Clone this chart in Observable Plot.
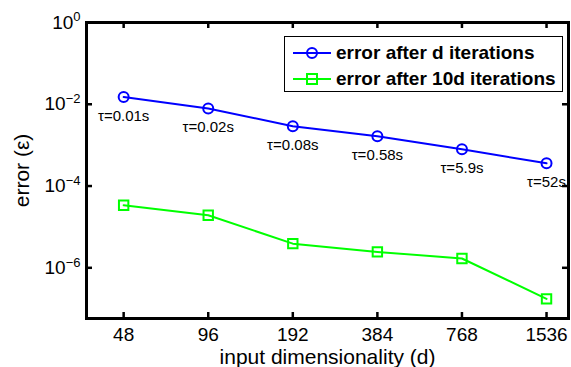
<!DOCTYPE html>
<html><head><meta charset="utf-8">
<script src="https://cdn.jsdelivr.net/npm/d3@7"></script>
<script src="https://cdn.jsdelivr.net/npm/@observablehq/plot@0.6"></script>
<style>
body{margin:0;background:#fff;}
#wrap{position:relative;width:571px;height:367px;font-family:"Liberation Sans",Arial,sans-serif;overflow:hidden;}
#legend{position:absolute;left:284px;top:36px;width:279px;height:56px;border:1px solid #000;background:#fff;box-sizing:border-box;font-weight:bold;font-size:19px;color:#000;}
#legend .row{position:absolute;left:7px;display:flex;align-items:center;height:22px;white-space:nowrap;}
#legend svg{margin-right:4px;}
</style></head>
<body><div id="wrap"></div>
<script>
const dims = [48, 96, 192, 384, 768, 1536];
const errD = [0.015, 0.0079, 0.0029, 0.00166, 0.00079, 0.00036];
const err10D = [3.4e-5, 1.93e-5, 3.9e-6, 2.45e-6, 1.69e-6, 1.74e-7];
const tauLabels = ["τ=0.01s", "τ=0.02s", "τ=0.08s", "τ=0.58s", "τ=5.9s", "τ=52s"];
const yTicks = [1, 1e-2, 1e-4, 1e-6];
const seriesNames = ["error after d iterations", "error after 10d iterations"];
const colors = ["#0000ff", "#00ff00"];

const blue = dims.map((d, i) => ({d, e: errD[i], t: tauLabels[i]}));
const green = dims.map((d, i) => ({d, e: err10D[i]}));

const W = 571, H = 367, mL = 86, mR = 3, mT = 22, mB = 49;
const innerW = W - mL - mR, innerH = H - mT - mB, tickLen = 6;

const plot = Plot.plot({
  width: W, height: H,
  marginLeft: mL, marginRight: mR, marginTop: mT, marginBottom: mB,
  x: {type: "log", base: 2, domain: [35.4, 1839]},
  y: {type: "log", domain: [Math.pow(10, -7.24), 1]},
  style: {fontFamily: "Liberation Sans, Arial, sans-serif", fontSize: "19px", color: "#000", background: "#fff"},
  marks: [
    Plot.line(blue, {x: "d", y: "e", stroke: colors[0], strokeWidth: 2}),
    Plot.dot(blue, {x: "d", y: "e", r: 5, stroke: colors[0], strokeWidth: 2, fill: "none"}),
    Plot.text(blue, {x: "d", y: "e", text: "t", dy: 19, fontSize: 15, fill: "#000"}),
    Plot.line(green, {x: "d", y: "e", stroke: colors[1], strokeWidth: 2}),
    Plot.dot(green, {x: "d", y: "e", r: 5.3, symbol: "square", stroke: colors[1], strokeWidth: 2, fill: "none"}),
    // inward ticks on all four sides
    Plot.tickX(dims, {x: d => d, insetTop: innerH - tickLen, stroke: "#000", strokeWidth: 2.5}),
    Plot.tickX(dims, {x: d => d, insetBottom: innerH - tickLen, stroke: "#000", strokeWidth: 2.5}),
    Plot.tickY(yTicks, {y: d => d, insetRight: innerW - tickLen, stroke: "#000", strokeWidth: 2.5}),
    Plot.tickY(yTicks, {y: d => d, insetLeft: innerW - tickLen, stroke: "#000", strokeWidth: 2.5}),
    Plot.frame({stroke: "#000", strokeWidth: 3}),
    Plot.axisX(dims, {anchor: "bottom", tickSize: 0, tickPadding: 9, tickFormat: d => String(d), fontSize: 19,
      label: "input dimensionality (d)", labelAnchor: "center", labelArrow: false, labelOffset: 45}),
    Plot.axisY(yTicks, {anchor: "left", tickSize: 0, tickPadding: 6,
      tickFormat: d => "10^" + Math.round(Math.log10(d)), fontSize: 19,
      label: "error (ε)", labelAnchor: "center", labelArrow: false, labelOffset: 72})
  ]
});

// superscript exponents
d3.select(plot).selectAll('g[aria-label="y-axis tick label"] text').each(function() {
  const s = this.textContent;
  if (!s.includes("^")) return;
  const [base, ex] = s.split("^");
  const t = d3.select(this);
  t.text(null);
  t.append("tspan").text(base);
  t.append("tspan").attr("dy", "-0.55em").attr("font-size", "13px").text(ex.replace("-", "−"));
});
d3.select(plot).selectAll('g[aria-label="x-axis label"], g[aria-label="y-axis label"]').attr("font-size", "21px");
d3.select(plot).selectAll('g[aria-label="x-axis label"] text, g[aria-label="y-axis label"] text').attr("font-size", "21px");

const wrap = document.getElementById("wrap");
wrap.appendChild(plot);

const legend = document.createElement("div");
legend.id = "legend";
const icons = [
  `<svg width="40" height="16"><line x1="1" y1="8" x2="39" y2="8" stroke="${colors[0]}" stroke-width="2"/><circle cx="20" cy="8" r="5" fill="none" stroke="${colors[0]}" stroke-width="2"/></svg>`,
  `<svg width="40" height="16"><line x1="1" y1="8" x2="39" y2="8" stroke="${colors[1]}" stroke-width="2"/><rect x="15" y="3" width="10" height="10" fill="none" stroke="${colors[1]}" stroke-width="2"/></svg>`
];
seriesNames.forEach((name, i) => {
  const row = document.createElement("div");
  row.className = "row";
  row.style.top = (5 + i * 26) + "px";
  row.innerHTML = icons[i] + `<span>${name}</span>`;
  legend.appendChild(row);
});
wrap.appendChild(legend);
</script>
</body></html>
